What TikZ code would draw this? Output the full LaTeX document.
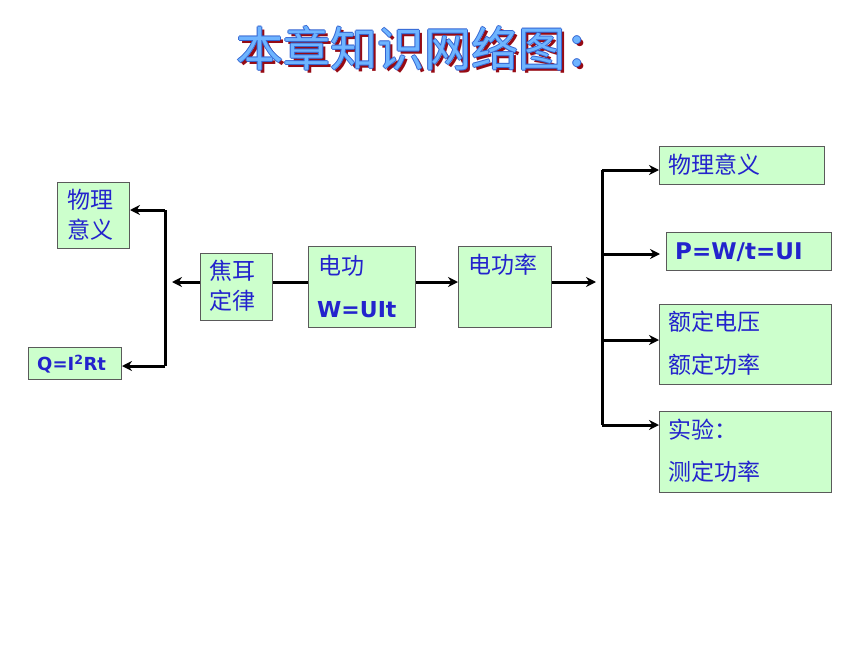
\documentclass[tikz,border=0pt]{standalone}
\usepackage{fontspec}
\newfontfamily\cjk{Noto Sans CJK SC}
\newfontfamily\lat{DejaVu Sans}
\usetikzlibrary{arrows.meta}
\definecolor{boxfill}{RGB}{204,255,204}
\definecolor{boxline}{RGB}{90,90,90}
\definecolor{txtblue}{RGB}{35,35,205}
\definecolor{titleblue}{RGB}{110,180,255}
\definecolor{titleedge}{RGB}{50,100,210}
\definecolor{titlered}{RGB}{150,10,20}
\tikzset{
  box/.style={draw=boxline, line width=1pt, fill=boxfill, anchor=north west, inner sep=0pt},
  cn/.style={font=\cjk\fontsize{23}{26}\selectfont, text=txtblue, anchor=west, inner sep=0pt},
  ltx/.style={font=\lat\bfseries\fontsize{#1}{#1}\selectfont, text=txtblue, anchor=west, inner sep=0pt},
  conn/.style={line width=3pt, draw=black},
  arr/.style={conn, -{Stealth[length=10pt,width=10pt]}},
  ttl/.style={font=\cjk\fontsize{47}{50}\selectfont, anchor=west, inner sep=0pt}
}
\begin{document}
\begin{tikzpicture}[x=1pt,y=-1pt]
\useasboundingbox (0,0) rectangle (860,645);
% title
\node[ttl, text=titlered] at (239,51) {本章知识网络图：};
\foreach \dx/\dy in {-1/0,1/0,0/-1,0/1}
  \node[ttl, text=titleedge] at (236+\dx,48+\dy) {本章知识网络图：};
\node[ttl, text=titleblue] (title) at (236,48) {本章知识网络图：};
% boxes
\node[box, minimum width=72, minimum height=66] (ly) at (57,182) {};
\node[box, minimum width=93, minimum height=32] (q) at (28,347) {};
\node[box, minimum width=72, minimum height=67] (je) at (200,253) {};
\node[box, minimum width=107, minimum height=81] (dg) at (308,246) {};
\node[box, minimum width=93, minimum height=81] (dgl) at (458,246) {};
\node[box, minimum width=165, minimum height=38] (r1) at (659,146) {};
\node[box, minimum width=165, minimum height=38] (r2) at (666,232) {};
\node[box, minimum width=172, minimum height=80] (r3) at (659,304) {};
\node[box, minimum width=172, minimum height=81] (r4) at (659,411) {};
% texts
\node[cn] at (67,200) {物理};
\node[cn] at (67,230) {意义};
\node[ltx=18] at (37,364) {Q=I\textsuperscript{2}Rt};
\node[cn] at (209,271) {焦耳};
\node[cn] at (209,301) {定律};
\node[cn] at (318,266) {电功};
\node[ltx=22] at (317,310) {W=UIt};
\node[cn] at (468,265) {电功率};
\node[cn] at (668,165) {物理意义};
\node[ltx=23] at (675,252) {P=W/t=UI};
\node[cn] at (668,322) {额定电压};
\node[cn] at (668,365) {额定功率};
\node[cn] at (668,430) {实验：};
\node[cn] at (668,472) {测定功率};
% left connectors
\coordinate (lt) at (165,210);
\coordinate (lb) at (165,366);
\coordinate (jl) at (172,282);
\draw[conn] (lt) -- (lb);
\draw[arr] (lt) -- (ly.east |- lt);
\draw[arr] (lb) -- (q.east |- lb);
\draw[arr] (je.west |- jl) -- (jl);
% middle
\draw[conn] (je.east |- 0,282) -- (dg.west |- 0,282);
\draw[arr] (dg.east |- 0,282) -- (dgl.west |- 0,282);
\coordinate (rm) at (596,282);
\draw[arr] (dgl.east |- rm) -- (rm);
% right connectors
\coordinate (rt) at (602,170);
\coordinate (rb) at (602,425);
\draw[conn] (rt) -- (rb);
\draw[arr] (rt) -- (r1.west |- rt);
\draw[arr] (602,254) -- (660,254);
\draw[arr] (602,340) -- (r3.west |- 0,340);
\draw[arr] (rb) -- (r4.west |- rb);
\end{tikzpicture}
\end{document}
